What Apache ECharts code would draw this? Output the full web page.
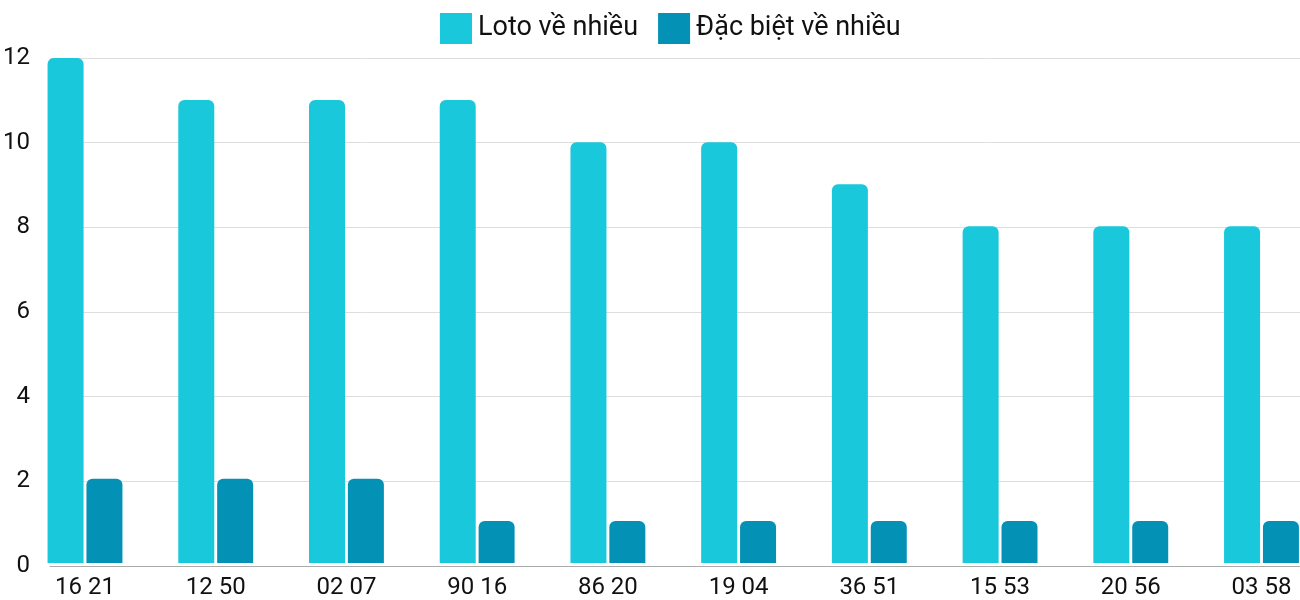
<!DOCTYPE html>
<html>
<head>
<meta charset="utf-8">
<script src="https://cdn.jsdelivr.net/npm/echarts@6/dist/echarts.min.js"></script>
<style>
html,body{margin:0;padding:0;background:#fff;}
#chart{width:1300px;height:600px;}
</style>
</head>
<body>
<div id="chart"></div>
<script>
const categories = ["16 21", "12 50", "02 07", "90 16", "86 20", "19 04", "36 51", "15 53", "20 56", "03 58"];
const lotoValues = [12, 11, 11, 11, 10, 10, 9, 8, 8, 8];
const dbValues = [2, 2, 2, 1, 1, 1, 1, 1, 1, 1];
const seriesNames = ["Loto về nhiều", "Đặc biệt về nhiều"];

const chart = echarts.init(document.getElementById('chart'), null, {renderer: 'canvas'});
const font = 'Roboto';
chart.setOption({
  animation: false,
  backgroundColor: '#fff',
  textStyle: {fontFamily: font},
  legend: {
    top: 13,
    left: 440,
    padding: 0,
    itemWidth: 32,
    itemHeight: 31,
    itemGap: 20,
    icon: 'rect',
    textStyle: {fontFamily: font, fontSize: 27, color: '#111', padding: [0, 0, 0, 1]},
    data: seriesNames
  },
  grid: [
    {left: 48, right: 0, top: 58, bottom: 34},
    {left: 85, right: 38.5, top: 58, bottom: 34}
  ],
  xAxis: [
    {
      gridIndex: 0, type: 'category', data: categories,
      axisLine: {show: true, lineStyle: {color: '#aaa', width: 1}},
      axisTick: {show: false}, axisLabel: {show: false}, splitLine: {show: false}
    },
    {
      gridIndex: 1, type: 'category', data: categories, boundaryGap: false,
      axisLine: {show: false}, axisTick: {show: false},
      axisLabel: {show: true, fontFamily: font, fontSize: 24, color: '#111', margin: 13, interval: 0}
    }
  ],
  yAxis: [
    {
      gridIndex: 0, type: 'value', min: 0, max: 12, interval: 2,
      axisLine: {show: false}, axisTick: {show: false},
      axisLabel: {fontFamily: font, fontSize: 24, color: '#111', margin: 20},
      splitLine: {show: true, lineStyle: {color: '#dedede', width: 1}}
    },
    {
      gridIndex: 1, type: 'value', min: 0, max: 12, interval: 2, show: false,
      splitLine: {show: false}
    }
  ],
  series: [
    {
      name: seriesNames[0], type: 'bar', xAxisIndex: 1, yAxisIndex: 1,
      data: lotoValues, barWidth: 36, barGap: '8%', clip: false,
      itemStyle: {color: '#1ac8db', borderRadius: [6, 6, 0, 0]}
    },
    {
      name: seriesNames[1], type: 'bar', xAxisIndex: 1, yAxisIndex: 1,
      data: dbValues, barWidth: 36, barGap: '8%', clip: false,
      itemStyle: {color: '#0392b6', borderRadius: [6, 6, 0, 0]}
    }
  ]
});
</script>
</body>
</html>
